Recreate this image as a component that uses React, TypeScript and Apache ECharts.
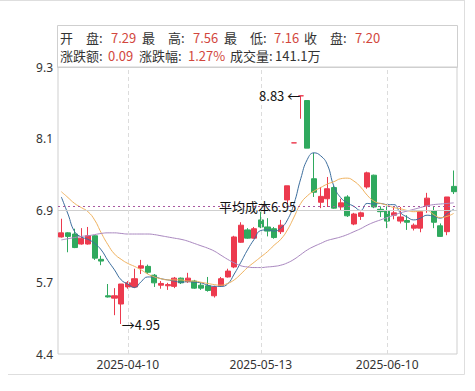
import React, { useEffect, useRef } from "react";
import * as echarts from "echarts";

const DATES = [
  "2025-03-26", "2025-03-27", "2025-03-28", "2025-03-31", "2025-04-01", "2025-04-02", "2025-04-03", "2025-04-07", "2025-04-08", "2025-04-09",
  "2025-04-10", "2025-04-11", "2025-04-14", "2025-04-15", "2025-04-16", "2025-04-17", "2025-04-18", "2025-04-21", "2025-04-22", "2025-04-23",
  "2025-04-24", "2025-04-25", "2025-04-28", "2025-04-29", "2025-04-30", "2025-05-06", "2025-05-07", "2025-05-08", "2025-05-09", "2025-05-12",
  "2025-05-13", "2025-05-14", "2025-05-15", "2025-05-16", "2025-05-19", "2025-05-20", "2025-05-21", "2025-05-22", "2025-05-23", "2025-05-26",
  "2025-05-27", "2025-05-28", "2025-05-29", "2025-05-30", "2025-06-03", "2025-06-04", "2025-06-05", "2025-06-06", "2025-06-09", "2025-06-10",
  "2025-06-11", "2025-06-12", "2025-06-13", "2025-06-16", "2025-06-17", "2025-06-18", "2025-06-19", "2025-06-20", "2025-06-23", "2025-06-24",
];

const OPEN = [
  6.43, 6.50, 6.48, 6.31, 6.31, 6.45, 6.05, 5.43, 5.39, 5.29,
  5.58, 5.58, 5.90, 5.93, 5.78, 5.61, 5.60, 5.59, 5.73, 5.67,
  5.68, 5.61, 5.60, 5.43, 5.60, 5.75, 5.92, 6.34, 6.55, 6.41,
  6.72, 6.60, 6.57, 6.52, 7.06, 8.03, 8.83, 8.75, 7.42, 7.02,
  7.08, 7.27, 6.94, 7.11, 6.65, 6.78, 7.28, 7.48, 6.90, 6.87,
  6.80, 6.70, 6.71, 6.58, 6.58, 6.96, 6.88, 6.62, 6.52, 7.29,
];
const CLOSE = [
  6.50, 6.44, 6.25, 6.41, 6.45, 6.07, 6.02, 5.41, 5.43, 5.63,
  5.65, 5.72, 5.94, 5.83, 5.65, 5.64, 5.62, 5.73, 5.65, 5.73,
  5.56, 5.56, 5.52, 5.58, 5.72, 5.85, 6.43, 6.63, 6.41, 6.57,
  6.60, 6.53, 6.42, 6.63, 7.30, 8.03, 8.83, 7.94, 7.19, 7.12,
  7.25, 6.92, 7.01, 6.79, 6.82, 6.84, 7.52, 6.94, 6.86, 6.70,
  6.84, 6.77, 6.68, 6.63, 6.86, 7.09, 6.68, 6.44, 7.11, 7.20,
];
const LOW = [
  6.42, 6.17, 6.24, 6.30, 6.30, 6.04, 5.95, 5.40, 5.10, 4.95,
  5.55, 5.56, 5.80, 5.80, 5.58, 5.55, 5.53, 5.56, 5.63, 5.65,
  5.55, 5.53, 5.50, 5.40, 5.58, 5.74, 5.90, 6.33, 6.40, 6.40,
  6.58, 6.44, 6.40, 6.48, 6.99, 8.03, 8.44, 7.94, 7.11, 6.92,
  6.94, 6.91, 6.89, 6.77, 6.63, 6.72, 7.25, 6.92, 6.77, 6.58,
  6.73, 6.66, 6.55, 6.54, 6.51, 6.84, 6.58, 6.43, 6.46, 7.16,
];
const HIGH = [
  6.74, 6.51, 6.57, 6.58, 6.60, 6.46, 6.11, 5.63, 5.56, 5.63,
  5.68, 5.89, 6.04, 5.96, 5.80, 5.68, 5.65, 5.75, 5.74, 5.82,
  5.70, 5.65, 5.75, 5.60, 5.75, 5.89, 6.45, 6.68, 6.58, 6.60,
  6.86, 6.75, 6.60, 6.72, 7.30, 8.03, 8.83, 8.75, 7.86, 7.28,
  7.45, 7.30, 7.08, 7.14, 6.84, 6.86, 7.54, 7.49, 6.95, 6.95,
  6.95, 6.94, 6.80, 6.66, 6.88, 7.18, 6.95, 6.66, 7.11, 7.56,
];

const MA5 = [
  7.11, 6.82, 6.52, 6.43, 6.39, 6.32, 6.21, 6.03, 5.87, 5.70,
  5.63, 5.57, 5.67, 5.75, 5.75, 5.72, 5.70, 5.68, 5.66, 5.67,
  5.66, 5.65, 5.61, 5.59, 5.59, 5.63, 5.80, 6.00, 6.21, 6.39,
  6.54, 6.55, 6.53, 6.58, 6.72, 7.00, 7.42, 7.75, 7.86, 7.81,
  7.66, 7.29, 7.10, 7.01, 6.95, 6.88, 7.00, 6.99, 7.00, 6.98,
  6.98, 6.84, 6.77, 6.72, 6.75, 6.80, 6.78, 6.75, 6.83, 6.90,
];
const MA10 = [
  7.20, 7.10, 7.00, 6.93, 6.86, 6.72, 6.50, 6.30, 6.14, 6.05,
  5.98, 5.93, 5.87, 5.80, 5.75, 5.72, 5.70, 5.70, 5.70, 5.68,
  5.68, 5.66, 5.64, 5.62, 5.61, 5.64, 5.70, 5.80, 5.91, 6.00,
  6.09, 6.18, 6.29, 6.39, 6.55, 6.77, 7.00, 7.13, 7.21, 7.27,
  7.33, 7.37, 7.42, 7.43, 7.38, 7.28, 7.14, 7.04, 7.00, 6.97,
  6.93, 6.91, 6.88, 6.86, 6.87, 6.88, 6.81, 6.76, 6.78, 6.83,
];
const MA30 = [
  6.38, 6.40, 6.42, 6.44, 6.45, 6.47, 6.49, 6.50, 6.50, 6.49,
  6.48, 6.48, 6.48, 6.48, 6.47, 6.45, 6.43, 6.41, 6.39, 6.36,
  6.32, 6.28, 6.24, 6.19, 6.12, 6.05, 5.99, 5.94, 5.92, 5.91,
  5.91, 5.92, 5.93, 5.95, 5.99, 6.05, 6.13, 6.21, 6.27, 6.32,
  6.37, 6.40, 6.43, 6.47, 6.52, 6.57, 6.63, 6.68, 6.72, 6.76,
  6.80, 6.84, 6.87, 6.90, 6.93, 6.96, 6.98, 6.99, 7.00, 7.01,
];

const Y_MIN = 4.44;
const Y_MAX = 9.32;
const Y_TICKS = [4.44, 5.66, 6.88, 8.1, 9.32];
const X_LABELS = ["2025-04-10", "2025-05-13", "2025-06-10"];
const MEAN_COST = 6.95;
const VOLUME = "141.1万";

const UP = "#ec3a4e";
const DOWN = "#2fa95e";
const VAL_RED = "#d2473d";
const TXT = "#333";
const FONT = '"Noto Sans", "Noto Sans CJK SC", sans-serif';
const CJK = '"Noto Sans CJK SC", "Noto Sans", sans-serif';

export default function App() {
  const ref = useRef<HTMLDivElement>(null);
  useEffect(() => {
    const chart = echarts.init(ref.current!, null, { renderer: "svg" });
    const n = CLOSE.length;
    const last = n - 1;
    const change = CLOSE[last] - CLOSE[last - 1];
    const pct = (change / CLOSE[last - 1]) * 100;
    const hiIdx = HIGH.indexOf(Math.max(...HIGH));
    const loIdx = LOW.indexOf(Math.min(...LOW));

    const candles = DATES.map((_, i) => [OPEN[i], CLOSE[i], LOW[i], HIGH[i]]);

    const legendItems: any[] = [];
    const addText = (text: string, x: number, y: number, fill: string) =>
      legendItems.push({
        type: "text",
        x,
        y,
        silent: true,
        style: {
          text,
          fill,
          font: `13px ${CJK}`,
          lineHeight: 13,
          verticalAlign: "middle",
          align: "left",
        },
      });
    const r1 = 37.5, r2 = 55.5;
    addText("开　盘:", 60, r1, TXT);
    addText(OPEN[last].toFixed(2), 111, r1, VAL_RED);
    addText("最　高:", 142, r1, TXT);
    addText(HIGH[last].toFixed(2), 193, r1, VAL_RED);
    addText("最　低:", 224, r1, TXT);
    addText(LOW[last].toFixed(2), 274, r1, VAL_RED);
    addText("收　盘:", 304, r1, TXT);
    addText(CLOSE[last].toFixed(2), 355, r1, VAL_RED);
    addText("涨跌额:", 60, r2, TXT);
    addText(change.toFixed(2), 108, r2, VAL_RED);
    addText("涨跌幅:", 139, r2, TXT);
    addText(pct.toFixed(2) + "%", 188, r2, VAL_RED);
    addText("成交量:", 230, r2, TXT);
    addText(VOLUME, 275, r2, TXT);

    const option: any = {
      animation: false,
      textStyle: { fontFamily: FONT },
      grid: {
        left: 58,
        right: 18,
        top: 67,
        bottom: 37,
        show: true,
        borderColor: "#cfcfcf",
        borderWidth: 1,
      },
      graphic: [
        {
          type: "rect",
          silent: true,
          shape: { x: 57.5, y: 25.5, width: 400, height: 42 },
          style: { fill: "none", stroke: "#cfcfcf", lineWidth: 1 },
        },
        { type: "line", silent: true, shape: { x1: 0, y1: 0.5, x2: 464.5, y2: 0.5 }, style: { stroke: "#dedede", lineWidth: 1 } },
        { type: "line", silent: true, shape: { x1: 464.5, y1: 0, x2: 464.5, y2: 374.5 }, style: { stroke: "#dedede", lineWidth: 1 } },
        { type: "line", silent: true, shape: { x1: 8, y1: 374.5, x2: 464.5, y2: 374.5 }, style: { stroke: "#dedede", lineWidth: 1 } },
        ...legendItems,
      ],
      xAxis: {
        type: "category",
        data: DATES,
        boundaryGap: true,
        axisLine: { show: false },
        axisTick: { show: false },
        splitLine: { show: false },
        axisLabel: {
          color: TXT,
          fontSize: 12,
          margin: 4,
          interval: (idx: number) => X_LABELS.includes(DATES[idx]),
        },
      },
      yAxis: {
        type: "value",
        min: Y_MIN,
        max: Y_MAX,
        axisLine: { show: false },
        axisTick: { show: false },
        splitLine: { show: false },
        axisLabel: {
          color: TXT,
          fontSize: 12,
          margin: 5,
          customValues: Y_TICKS,
          formatter: (v: number) => v.toFixed(1),
        },
      },
      series: [
        {
          type: "candlestick",
          data: candles,
          barWidth: "84%",
          itemStyle: {
            color: UP,
            color0: DOWN,
            borderColor: UP,
            borderColor0: DOWN,
            borderWidth: 1,
          },
          markLine: {
            silent: true,
            symbol: ["none", "none"],
            animation: false,
            data: [
              {
                yAxis: Y_TICKS[2],
                lineStyle: { color: "#cfcfcf", type: "solid", width: 1 },
                label: { show: false },
              },
              ...X_LABELS.map((d) => ({
                xAxis: d,
                lineStyle: { color: "#dcdcdc", type: [4, 3], width: 1 },
                label: { show: false },
              })),
              {
                yAxis: MEAN_COST,
                lineStyle: { color: "#a8569f", type: [2, 3], width: 1 },
                label: {
                  show: true,
                  position: "middle",
                  distance: 0,
                  verticalAlign: "middle",
                  formatter: "平均成本" + MEAN_COST.toFixed(2),
                  color: "#111",
                  fontSize: 13,
                  fontFamily: CJK,
                },
              },
            ],
          },
          markPoint: {
            silent: true,
            symbol: "circle",
            symbolSize: 1,
            itemStyle: { color: "rgba(0,0,0,0)" },
            label: { show: true, color: "#111", fontSize: 13, fontFamily: CJK },
            data: [
              {
                coord: [DATES[hiIdx], HIGH[hiIdx]],
                label: { position: "left", distance: 0, formatter: HIGH[hiIdx].toFixed(2) + " ←" },
              },
              {
                coord: [DATES[loIdx], LOW[loIdx]],
                label: { position: "right", distance: 0, formatter: "→" + LOW[loIdx].toFixed(2) },
              },
            ],
          },
        },
        {
          type: "line",
          data: MA5,
          smooth: true,
          showSymbol: false,
          lineStyle: { color: "#3c6e9e", width: 1 },
          silent: true,
        },
        {
          type: "line",
          data: MA10,
          smooth: true,
          showSymbol: false,
          lineStyle: { color: "#f0b25e", width: 1 },
          silent: true,
        },
        {
          type: "line",
          data: MA30,
          smooth: true,
          showSymbol: false,
          lineStyle: { color: "#a987bf", width: 1 },
          silent: true,
        },
      ],
    };
    chart.setOption(option);
    return () => chart.dispose();
  }, []);
  return (
    <div
      ref={ref}
      style={{ position: "absolute", left: 0, top: 0, width: 475, height: 391 }}
    />
  );
}
